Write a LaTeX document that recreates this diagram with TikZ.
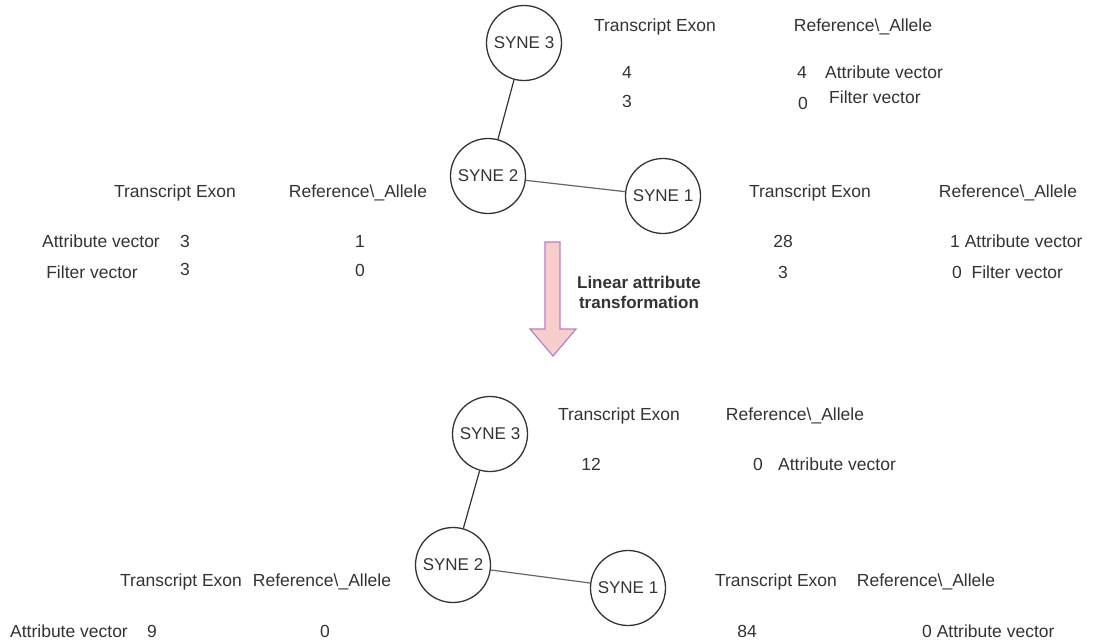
\documentclass[tikz,border=0pt]{standalone}
\usepackage{fontspec}
\setmainfont{Liberation Sans}
\definecolor{ink}{HTML}{333333}
\definecolor{edgegray}{HTML}{666666}
\definecolor{arrowfill}{HTML}{F8CECC}
\definecolor{arrowline}{HTML}{B57FD0}
\begin{document}
\begin{tikzpicture}[x=1pt,y=-1pt,
  gene/.style={circle,draw=ink,line width=1.3pt,minimum size=75pt,inner sep=0pt,
    text=ink,font=\fontsize{17}{20}\selectfont},
  lbl/.style={inner sep=0pt,text=ink,font=\fontsize{17.5}{20}\selectfont},
  link/.style={draw=ink,line width=1.2pt},
  softlink/.style={draw=edgegray,line width=1.2pt},
  bigarrow/.style={fill=arrowfill,draw=arrowline,line width=1.2pt,line join=miter}]
\useasboundingbox (0,0) rectangle (1096,641);

% ---------- graph before the transformation ----------
\node[gene] (a3) at (524,43) {SYNE 3};
\node[gene] (a2) at (488,176) {SYNE 2};
\node[gene] (a1) at (663,196) {SYNE 1};
\draw[link] (a3) -- (a2);
\draw[softlink] (a2) -- (a1);

% attributes of SYNE 3
\node[lbl] (a3h1) at (655,27) {Transcript Exon};
\node[lbl] (a3h2) at (863,27) {Reference\textbackslash\_Allele};
\node[lbl] (a3v1) at (627,72) {4};
\node[lbl] (a3v2) at (627,101) {3};
\node[lbl] (a3r1) at (802,72) {4};
\node[lbl,anchor=west] (a3n1) at (825,72) {Attribute vector};
\node[lbl] (a3r2) at (803,103) {0};
\node[lbl,anchor=west] (a3n2) at (829,97) {Filter vector};

% attributes of SYNE 2
\node[lbl] (a2h1) at (175,193) {Transcript Exon};
\node[lbl] (a2h2) at (358,193) {Reference\textbackslash\_Allele};
\node[lbl] (a2n1) at (101,241) {Attribute vector};
\node[lbl] (a2v1) at (185,241) {3};
\node[lbl] (a2r1) at (360,241) {1};
\node[lbl] (a2n2) at (92,272) {Filter vector};
\node[lbl] (a2v2) at (185,269) {3};
\node[lbl] (a2r2) at (360,270) {0};

% attributes of SYNE 1
\node[lbl] (a1h1) at (810,193) {Transcript Exon};
\node[lbl] (a1h2) at (1008,193) {Reference\textbackslash\_Allele};
\node[lbl] (a1v1) at (783,241) {28};
\node[lbl,anchor=west] (a1r1) at (950,241) {1 Attribute vector};
\node[lbl,anchor=west] (a1r2) at (952,272) {0\ \ Filter vector};
\node[lbl] (a1v2) at (783,272) {3};

% ---------- transformation arrow ----------
\draw[bigarrow] (545,242) -- (560,242) -- (560,329) -- (576,329) -- (553,356)
  -- (530,329) -- (545,329) -- cycle;
\node[lbl,font=\bfseries\fontsize{17}{20}\selectfont,align=center] (xform) at (639,292)
  {Linear attribute\\transformation};

% ---------- graph after the transformation ----------
\node[gene] (b3) at (490,434) {SYNE 3};
\node[gene] (b2) at (453,565) {SYNE 2};
\node[gene] (b1) at (628,588) {SYNE 1};
\draw[link] (b3) -- (b2);
\draw[softlink] (b2) -- (b1);

% attributes of SYNE 3
\node[lbl] (b3h1) at (619,416) {Transcript Exon};
\node[lbl] (b3h2) at (795,416) {Reference\textbackslash\_Allele};
\node[lbl] (b3v1) at (591,464) {12};
\node[lbl] (b3r1) at (758,464) {0};
\node[lbl,anchor=west] (b3n1) at (778,464) {Attribute vector};

% attributes of SYNE 2
\node[lbl] (b2h1) at (181,582) {Transcript Exon};
\node[lbl] (b2h2) at (322,582) {Reference\textbackslash\_Allele};
\node[lbl] (b2n1) at (69,631) {Attribute vector};
\node[lbl] (b2v1) at (152,631) {9};
\node[lbl] (b2r1) at (325,631) {0};

% attributes of SYNE 1
\node[lbl] (b1h1) at (776,582) {Transcript Exon};
\node[lbl] (b1h2) at (926,582) {Reference\textbackslash\_Allele};
\node[lbl] (b1v1) at (747,631) {84};
\node[lbl,anchor=west] (b1r1) at (922,631) {0 Attribute vector};
\end{tikzpicture}
\end{document}
